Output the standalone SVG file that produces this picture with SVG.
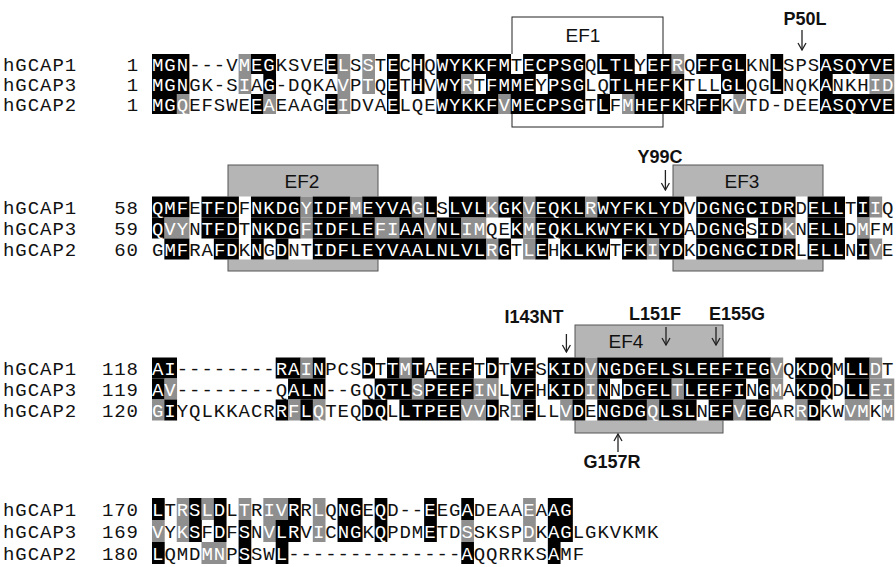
<svg xmlns="http://www.w3.org/2000/svg" width="896" height="567" viewBox="0 0 896 567">
<style>
.seq{font-family:"Liberation Mono","Courier New",monospace;font-size:19px;letter-spacing:0.97px;fill:#111}
.num{text-anchor:end}
.w{fill:#fff}
.k{fill:#000}
.g{fill:#8f8f8f}
.band{fill:#fff}
.ef{fill:#b5b5b5;stroke:#555;stroke-width:1}
.ef1{fill:#fff;stroke:#222;stroke-width:1}
.eft{font-family:"Liberation Sans",Arial,sans-serif;font-size:19px;text-anchor:middle;fill:#111}
.mut{font-family:"Liberation Sans",Arial,sans-serif;font-size:18px;font-weight:bold;text-anchor:middle;fill:#111}
.arr{stroke:#222;stroke-width:1.3;fill:none;marker-end:url(#ah)}
</style>
<defs>
<marker id="ah" viewBox="0 0 10 10" refX="9" refY="5" markerWidth="10" markerHeight="10" markerUnits="userSpaceOnUse" orient="auto">
<path d="M2,1 L9,5 L2,9" fill="none" stroke="#222" stroke-width="1.3"/>
</marker>
</defs>
<rect width="896" height="567" fill="#fff"/>

<g id="ef1"><rect class="ef1" x="512" y="17" width="151" height="110"/><text class="eft" x="583" y="42">EF1</text></g>
<g id="ef2"><rect class="ef" x="228" y="165" width="150" height="106"/><text class="eft" x="302" y="188">EF2</text></g>
<g id="ef3"><rect class="ef" x="673" y="165" width="150" height="106"/><text class="eft" x="742" y="188">EF3</text></g>
<g id="ef4"><rect class="ef" x="575" y="325" width="148" height="108"/><text class="eft" x="626" y="348">EF4</text></g>

<g id="bands">
<rect class="band" x="152" y="54" width="742.2" height="60"/>
<rect class="band" x="152" y="196.5" width="742.2" height="63"/>
<rect class="band" x="152" y="357.5" width="742.2" height="63"/>
</g>

<g id="block1">
<g transform="translate(0,54)">
<rect class="k" x="152" y="0" width="37.4" height="20"/><rect class="g" x="238.59" y="0" width="12.7" height="20"/><rect class="k" x="250.96" y="0" width="25" height="20"/><rect class="k" x="325.18" y="0" width="12.7" height="20"/><rect class="g" x="337.55" y="0" width="12.7" height="20"/><rect class="g" x="362.29" y="0" width="12.7" height="20"/><rect class="k" x="387.03" y="0" width="12.7" height="20"/><rect class="k" x="411.77" y="0" width="12.7" height="20"/><rect class="k" x="436.51" y="0" width="74.5" height="20"/><rect class="k" x="523.10" y="0" width="62.2" height="20"/><rect class="k" x="597.32" y="0" width="37.4" height="20"/><rect class="k" x="646.80" y="0" width="25" height="20"/><rect class="g" x="671.54" y="0" width="12.7" height="20"/><rect class="k" x="696.28" y="0" width="49.8" height="20"/><rect class="k" x="770.50" y="0" width="12.7" height="20"/><rect class="k" x="819.98" y="0" width="74.3" height="20"/>
</g>
<g transform="translate(0,74)">
<rect class="k" x="152" y="0" width="37.4" height="20"/><rect class="g" x="238.59" y="0" width="12.7" height="20"/><rect class="k" x="263.33" y="0" width="12.7" height="20"/><rect class="g" x="337.55" y="0" width="12.7" height="20"/><rect class="g" x="362.29" y="0" width="12.7" height="20"/><rect class="k" x="387.03" y="0" width="12.7" height="20"/><rect class="k" x="411.77" y="0" width="12.7" height="20"/><rect class="k" x="436.51" y="0" width="25" height="20"/><rect class="g" x="461.25" y="0" width="12.7" height="20"/><rect class="k" x="485.99" y="0" width="49.8" height="20"/><rect class="k" x="547.84" y="0" width="37.4" height="20"/><rect class="k" x="609.69" y="0" width="74.5" height="20"/><rect class="k" x="721.02" y="0" width="25" height="20"/><rect class="k" x="770.50" y="0" width="12.7" height="20"/><rect class="k" x="819.98" y="0" width="12.7" height="20"/><rect class="g" x="869.46" y="0" width="24.8" height="20"/>
</g>
<g transform="translate(0,94)">
<rect class="k" x="152" y="0" width="25" height="20"/><rect class="g" x="176.74" y="0" width="12.7" height="20"/><rect class="k" x="250.96" y="0" width="12.7" height="20"/><rect class="g" x="263.33" y="0" width="12.7" height="20"/><rect class="k" x="325.18" y="0" width="12.7" height="20"/><rect class="g" x="337.55" y="0" width="12.7" height="20"/><rect class="k" x="387.03" y="0" width="12.7" height="20"/><rect class="k" x="436.51" y="0" width="62.2" height="20"/><rect class="g" x="498.36" y="0" width="12.7" height="20"/><rect class="k" x="510.73" y="0" width="74.5" height="20"/><rect class="k" x="597.32" y="0" width="12.7" height="20"/><rect class="g" x="622.06" y="0" width="12.7" height="20"/><rect class="k" x="634.43" y="0" width="49.8" height="20"/><rect class="k" x="696.28" y="0" width="25" height="20"/><rect class="g" x="733.39" y="0" width="12.7" height="20"/><rect class="k" x="819.98" y="0" width="74.3" height="20"/>
</g>
<text class="seq" x="3" y="70.5">hGCAP1</text><text class="seq num" x="139" y="70.5">1</text>
<text class="seq" x="152" y="70.5"><tspan class="w">MGN</tspan>---V<tspan class="w">MEG</tspan>KSVE<tspan class="w">EL</tspan>S<tspan class="w">S</tspan>T<tspan class="w">E</tspan>C<tspan class="w">H</tspan>Q<tspan class="w">WYKKFM</tspan>T<tspan class="w">ECPSG</tspan>Q<tspan class="w">LTL</tspan>Y<tspan class="w">EFR</tspan>Q<tspan class="w">FFGL</tspan>KN<tspan class="w">L</tspan>SPS<tspan class="w">ASQYVE</tspan></text>
<text class="seq" x="3" y="90.5">hGCAP3</text><text class="seq num" x="139" y="90.5">1</text>
<text class="seq" x="152" y="90.5"><tspan class="w">MGN</tspan>GK-S<tspan class="w">I</tspan>A<tspan class="w">G</tspan>-DQKA<tspan class="w">V</tspan>P<tspan class="w">T</tspan>Q<tspan class="w">E</tspan>T<tspan class="w">H</tspan>V<tspan class="w">WYR</tspan>T<tspan class="w">FMME</tspan>Y<tspan class="w">PSG</tspan>LQ<tspan class="w">TLHEFK</tspan>TLL<tspan class="w">GL</tspan>QG<tspan class="w">L</tspan>NQK<tspan class="w">A</tspan>NKH<tspan class="w">ID</tspan></text>
<text class="seq" x="3" y="110.5">hGCAP2</text><text class="seq num" x="139" y="110.5">1</text>
<text class="seq" x="152" y="110.5"><tspan class="w">MGQ</tspan>EFSWE<tspan class="w">EA</tspan>EAAG<tspan class="w">EI</tspan>DVA<tspan class="w">E</tspan>LQE<tspan class="w">WYKKFVMECPSG</tspan>T<tspan class="w">L</tspan>F<tspan class="w">MHEFK</tspan>R<tspan class="w">FF</tspan>K<tspan class="w">V</tspan>TD-DEE<tspan class="w">ASQYVE</tspan></text>
</g>

<g id="block2">
<g transform="translate(0,196.5)">
<rect class="k" x="152" y="0" width="37.4" height="21"/><rect class="k" x="201.48" y="0" width="37.4" height="21"/><rect class="k" x="250.96" y="0" width="49.8" height="21"/><rect class="g" x="300.44" y="0" width="12.7" height="21"/><rect class="k" x="312.81" y="0" width="37.4" height="21"/><rect class="g" x="349.92" y="0" width="12.7" height="21"/><rect class="k" x="362.29" y="0" width="49.8" height="21"/><rect class="g" x="411.77" y="0" width="12.7" height="21"/><rect class="k" x="424.14" y="0" width="12.7" height="21"/><rect class="k" x="448.88" y="0" width="37.4" height="21"/><rect class="g" x="485.99" y="0" width="12.7" height="21"/><rect class="k" x="498.36" y="0" width="25" height="21"/><rect class="g" x="523.10" y="0" width="12.7" height="21"/><rect class="k" x="535.47" y="0" width="49.8" height="21"/><rect class="g" x="584.95" y="0" width="12.7" height="21"/><rect class="k" x="597.32" y="0" width="86.9" height="21"/><rect class="k" x="696.28" y="0" width="99.3" height="21"/><rect class="k" x="807.61" y="0" width="37.4" height="21"/><rect class="k" x="857.09" y="0" width="12.7" height="21"/><rect class="g" x="869.46" y="0" width="12.7" height="21"/>
</g>
<g transform="translate(0,217.5)">
<rect class="k" x="152" y="0" width="12.7" height="21"/><rect class="g" x="164.37" y="0" width="25" height="21"/><rect class="k" x="201.48" y="0" width="37.4" height="21"/><rect class="k" x="250.96" y="0" width="49.8" height="21"/><rect class="g" x="300.44" y="0" width="12.7" height="21"/><rect class="k" x="312.81" y="0" width="62.2" height="21"/><rect class="g" x="374.66" y="0" width="25" height="21"/><rect class="k" x="399.40" y="0" width="25" height="21"/><rect class="g" x="424.14" y="0" width="12.7" height="21"/><rect class="k" x="436.51" y="0" width="25" height="21"/><rect class="g" x="461.25" y="0" width="25" height="21"/><rect class="k" x="510.73" y="0" width="12.7" height="21"/><rect class="g" x="523.10" y="0" width="12.7" height="21"/><rect class="k" x="535.47" y="0" width="148.8" height="21"/><rect class="k" x="696.28" y="0" width="49.8" height="21"/><rect class="k" x="758.13" y="0" width="25" height="21"/><rect class="g" x="782.87" y="0" width="12.7" height="21"/><rect class="k" x="807.61" y="0" width="37.4" height="21"/><rect class="g" x="857.09" y="0" width="12.7" height="21"/>
</g>
<g transform="translate(0,238.5)">
<rect class="k" x="164.37" y="0" width="25" height="21"/><rect class="k" x="213.85" y="0" width="25" height="21"/><rect class="k" x="250.96" y="0" width="12.7" height="21"/><rect class="k" x="275.70" y="0" width="12.7" height="21"/><rect class="k" x="312.81" y="0" width="173.5" height="21"/><rect class="g" x="485.99" y="0" width="12.7" height="21"/><rect class="k" x="498.36" y="0" width="12.7" height="21"/><rect class="g" x="523.10" y="0" width="12.7" height="21"/><rect class="k" x="535.47" y="0" width="12.7" height="21"/><rect class="k" x="560.21" y="0" width="49.8" height="21"/><rect class="k" x="622.06" y="0" width="25" height="21"/><rect class="g" x="646.80" y="0" width="12.7" height="21"/><rect class="k" x="659.17" y="0" width="25" height="21"/><rect class="k" x="696.28" y="0" width="99.3" height="21"/><rect class="k" x="807.61" y="0" width="37.4" height="21"/><rect class="k" x="857.09" y="0" width="12.7" height="21"/><rect class="g" x="869.46" y="0" width="12.7" height="21"/>
</g>
<text class="seq" x="3" y="213.5">hGCAP1</text><text class="seq num" x="139" y="213.5">58</text>
<text class="seq" x="152" y="213.5"><tspan class="w">QMF</tspan>E<tspan class="w">TFD</tspan>F<tspan class="w">NKDGYIDFMEYVAGL</tspan>S<tspan class="w">LVLKGKVEQKLRWYFKLYD</tspan>V<tspan class="w">DGNGCIDR</tspan>D<tspan class="w">ELL</tspan>T<tspan class="w">II</tspan>Q</text>
<text class="seq" x="3" y="234.5">hGCAP3</text><text class="seq num" x="139" y="234.5">59</text>
<text class="seq" x="152" y="234.5"><tspan class="w">QVY</tspan>N<tspan class="w">TFD</tspan>T<tspan class="w">NKDGFIDFLEFIAAVNLIM</tspan>QE<tspan class="w">KMEQKLKWYFKLYD</tspan>A<tspan class="w">DGNG</tspan>S<tspan class="w">IDK</tspan>N<tspan class="w">ELL</tspan>D<tspan class="w">M</tspan>FM</text>
<text class="seq" x="3" y="255.5">hGCAP2</text><text class="seq num" x="139" y="255.5">60</text>
<text class="seq" x="152" y="255.5">G<tspan class="w">MF</tspan>RA<tspan class="w">FD</tspan>K<tspan class="w">N</tspan>G<tspan class="w">D</tspan>NT<tspan class="w">IDFLEYVAALNLVLRG</tspan>T<tspan class="w">LE</tspan>H<tspan class="w">KLKW</tspan>T<tspan class="w">FKIYD</tspan>K<tspan class="w">DGNGCIDR</tspan>L<tspan class="w">ELL</tspan>N<tspan class="w">IV</tspan>E</text>
</g>

<g id="block3">
<g transform="translate(0,357.5)">
<rect class="k" x="152" y="0" width="25" height="21"/><rect class="k" x="275.70" y="0" width="25" height="21"/><rect class="g" x="300.44" y="0" width="12.7" height="21"/><rect class="k" x="312.81" y="0" width="12.7" height="21"/><rect class="k" x="362.29" y="0" width="12.7" height="21"/><rect class="k" x="387.03" y="0" width="12.7" height="21"/><rect class="g" x="399.40" y="0" width="12.7" height="21"/><rect class="k" x="411.77" y="0" width="12.7" height="21"/><rect class="k" x="436.51" y="0" width="37.4" height="21"/><rect class="k" x="485.99" y="0" width="12.7" height="21"/><rect class="k" x="510.73" y="0" width="25" height="21"/><rect class="k" x="547.84" y="0" width="37.4" height="21"/><rect class="g" x="584.95" y="0" width="12.7" height="21"/><rect class="k" x="597.32" y="0" width="173.5" height="21"/><rect class="g" x="770.50" y="0" width="12.7" height="21"/><rect class="k" x="795.24" y="0" width="37.4" height="21"/><rect class="k" x="844.72" y="0" width="25" height="21"/><rect class="g" x="869.46" y="0" width="12.7" height="21"/>
</g>
<g transform="translate(0,378.5)">
<rect class="k" x="152" y="0" width="12.7" height="21"/><rect class="g" x="164.37" y="0" width="12.7" height="21"/><rect class="k" x="288.07" y="0" width="37.4" height="21"/><rect class="k" x="374.66" y="0" width="37.4" height="21"/><rect class="g" x="411.77" y="0" width="12.7" height="21"/><rect class="k" x="424.14" y="0" width="49.8" height="21"/><rect class="g" x="473.62" y="0" width="25" height="21"/><rect class="k" x="510.73" y="0" width="25" height="21"/><rect class="k" x="547.84" y="0" width="37.4" height="21"/><rect class="g" x="584.95" y="0" width="12.7" height="21"/><rect class="k" x="597.32" y="0" width="12.7" height="21"/><rect class="k" x="622.06" y="0" width="49.8" height="21"/><rect class="g" x="671.54" y="0" width="12.7" height="21"/><rect class="k" x="683.91" y="0" width="62.2" height="21"/><rect class="k" x="758.13" y="0" width="12.7" height="21"/><rect class="g" x="770.50" y="0" width="12.7" height="21"/><rect class="k" x="795.24" y="0" width="37.4" height="21"/><rect class="k" x="844.72" y="0" width="25" height="21"/><rect class="g" x="869.46" y="0" width="24.8" height="21"/>
</g>
<g transform="translate(0,399.5)">
<rect class="g" x="152" y="0" width="12.7" height="21"/><rect class="k" x="164.37" y="0" width="12.7" height="21"/><rect class="k" x="275.70" y="0" width="12.7" height="21"/><rect class="g" x="288.07" y="0" width="12.7" height="21"/><rect class="k" x="300.44" y="0" width="12.7" height="21"/><rect class="g" x="312.81" y="0" width="12.7" height="21"/><rect class="k" x="362.29" y="0" width="25" height="21"/><rect class="k" x="399.40" y="0" width="62.2" height="21"/><rect class="g" x="461.25" y="0" width="25" height="21"/><rect class="k" x="485.99" y="0" width="12.7" height="21"/><rect class="g" x="510.73" y="0" width="12.7" height="21"/><rect class="k" x="523.10" y="0" width="12.7" height="21"/><rect class="g" x="560.21" y="0" width="12.7" height="21"/><rect class="k" x="572.58" y="0" width="12.7" height="21"/><rect class="k" x="597.32" y="0" width="49.8" height="21"/><rect class="g" x="646.80" y="0" width="12.7" height="21"/><rect class="k" x="659.17" y="0" width="37.4" height="21"/><rect class="k" x="708.65" y="0" width="25" height="21"/><rect class="g" x="733.39" y="0" width="12.7" height="21"/><rect class="k" x="745.76" y="0" width="25" height="21"/><rect class="g" x="795.24" y="0" width="12.7" height="21"/><rect class="k" x="807.61" y="0" width="12.7" height="21"/><rect class="g" x="844.72" y="0" width="25" height="21"/><rect class="g" x="881.83" y="0" width="12.4" height="21"/>
</g>
<text class="seq" x="3" y="374.5">hGCAP1</text><text class="seq num" x="139" y="374.5">118</text>
<text class="seq" x="152" y="374.5"><tspan class="w">AI</tspan>--------<tspan class="w">RAIN</tspan>PCS<tspan class="w">D</tspan>T<tspan class="w">TMT</tspan>A<tspan class="w">EEF</tspan>T<tspan class="w">D</tspan>T<tspan class="w">VF</tspan>S<tspan class="w">KIDVNGDGELSLEEFIEGV</tspan>Q<tspan class="w">KDQ</tspan>M<tspan class="w">LLD</tspan>T</text>
<text class="seq" x="3" y="395.5">hGCAP3</text><text class="seq num" x="139" y="395.5">119</text>
<text class="seq" x="152" y="395.5"><tspan class="w">AV</tspan>--------Q<tspan class="w">ALN</tspan>--GQ<tspan class="w">QTLSPEEFIN</tspan>L<tspan class="w">VF</tspan>H<tspan class="w">KIDIN</tspan>N<tspan class="w">DGELTLEEFI</tspan>N<tspan class="w">GM</tspan>A<tspan class="w">KDQ</tspan>D<tspan class="w">LLEI</tspan></text>
<text class="seq" x="3" y="416.5">hGCAP2</text><text class="seq num" x="139" y="416.5">120</text>
<text class="seq" x="152" y="416.5"><tspan class="w">GI</tspan>YQLKKACR<tspan class="w">RFLQ</tspan>TEQ<tspan class="w">DQ</tspan>L<tspan class="w">LTPEEVVD</tspan>R<tspan class="w">IF</tspan>LL<tspan class="w">VD</tspan>E<tspan class="w">NGDGQLSL</tspan>N<tspan class="w">EFVEG</tspan>AR<tspan class="w">RD</tspan>KW<tspan class="w">VM</tspan>K<tspan class="w">M</tspan></text>
</g>

<g id="block4">
<g transform="translate(0,498)">
<rect class="k" x="152" y="0" width="12.7" height="22"/><rect class="g" x="176.74" y="0" width="12.7" height="22"/><rect class="k" x="189.11" y="0" width="12.7" height="22"/><rect class="g" x="201.48" y="0" width="12.7" height="22"/><rect class="k" x="213.85" y="0" width="12.7" height="22"/><rect class="g" x="238.59" y="0" width="12.7" height="22"/><rect class="g" x="263.33" y="0" width="25" height="22"/><rect class="k" x="288.07" y="0" width="12.7" height="22"/><rect class="g" x="312.81" y="0" width="12.7" height="22"/><rect class="k" x="337.55" y="0" width="25" height="22"/><rect class="k" x="374.66" y="0" width="12.7" height="22"/><rect class="k" x="424.14" y="0" width="12.7" height="22"/><rect class="k" x="461.25" y="0" width="12.7" height="22"/><rect class="g" x="523.10" y="0" width="12.7" height="22"/><rect class="k" x="547.84" y="0" width="25" height="22"/>
</g>
<g transform="translate(0,520)">
<rect class="g" x="152" y="0" width="12.7" height="22"/><rect class="g" x="176.74" y="0" width="12.7" height="22"/><rect class="k" x="189.11" y="0" width="12.7" height="22"/><rect class="k" x="213.85" y="0" width="12.7" height="22"/><rect class="k" x="238.59" y="0" width="12.7" height="22"/><rect class="g" x="263.33" y="0" width="12.7" height="22"/><rect class="k" x="275.70" y="0" width="25" height="22"/><rect class="g" x="312.81" y="0" width="12.7" height="22"/><rect class="k" x="337.55" y="0" width="25" height="22"/><rect class="k" x="374.66" y="0" width="12.7" height="22"/><rect class="k" x="424.14" y="0" width="12.7" height="22"/><rect class="g" x="461.25" y="0" width="12.7" height="22"/><rect class="g" x="523.10" y="0" width="12.7" height="22"/><rect class="k" x="547.84" y="0" width="25" height="22"/>
</g>
<g transform="translate(0,542)">
<rect class="k" x="152" y="0" width="12.7" height="22"/><rect class="g" x="201.48" y="0" width="25" height="22"/><rect class="k" x="238.59" y="0" width="12.7" height="22"/><rect class="k" x="275.70" y="0" width="12.7" height="22"/><rect class="k" x="461.25" y="0" width="12.7" height="22"/><rect class="k" x="547.84" y="0" width="12.7" height="22"/>
</g>
<text class="seq" x="3" y="515.5">hGCAP1</text><text class="seq num" x="139" y="515.5">170</text>
<text class="seq" x="152" y="515.5"><tspan class="w">L</tspan>T<tspan class="w">RSLD</tspan>L<tspan class="w">T</tspan>R<tspan class="w">IVR</tspan>R<tspan class="w">L</tspan>Q<tspan class="w">NG</tspan>E<tspan class="w">Q</tspan>D--<tspan class="w">E</tspan>EG<tspan class="w">A</tspan>DEAA<tspan class="w">E</tspan>A<tspan class="w">AG</tspan></text>
<text class="seq" x="3" y="537.5">hGCAP3</text><text class="seq num" x="139" y="537.5">169</text>
<text class="seq" x="152" y="537.5"><tspan class="w">V</tspan>Y<tspan class="w">KS</tspan>F<tspan class="w">D</tspan>F<tspan class="w">S</tspan>N<tspan class="w">VLR</tspan>V<tspan class="w">I</tspan>C<tspan class="w">NG</tspan>K<tspan class="w">Q</tspan>PDM<tspan class="w">E</tspan>TD<tspan class="w">S</tspan>SKSP<tspan class="w">D</tspan>K<tspan class="w">AG</tspan>LGKVKMK</text>
<text class="seq" x="3" y="559.5">hGCAP2</text><text class="seq num" x="139" y="559.5">180</text>
<text class="seq" x="152" y="559.5"><tspan class="w">L</tspan>QMD<tspan class="w">MN</tspan>P<tspan class="w">S</tspan>SW<tspan class="w">L</tspan>--------------<tspan class="w">A</tspan>QQRRKS<tspan class="w">A</tspan>MF</text>
</g>

<g id="mutation-labels">
<text class="mut" x="805" y="25">P50L</text>
<text class="mut" x="660" y="163">Y99C</text>
<text class="mut" x="534" y="323">I143NT</text>
<text class="mut" x="655" y="320">L151F</text>
<text class="mut" x="737" y="320">E155G</text>
<text class="mut" x="612" y="468">G157R</text>
</g>

<g id="connectors">
<line class="arr" x1="802" y1="30" x2="802" y2="50"/>
<line class="arr" x1="665.4" y1="170" x2="665.4" y2="190"/>
<line class="arr" x1="566.4" y1="334" x2="566.4" y2="352"/>
<line class="arr" x1="666" y1="327" x2="666" y2="345"/>
<line class="arr" x1="716" y1="327" x2="716" y2="345"/>
<line class="arr" x1="618" y1="452" x2="618" y2="434"/>
</g>
</svg>
